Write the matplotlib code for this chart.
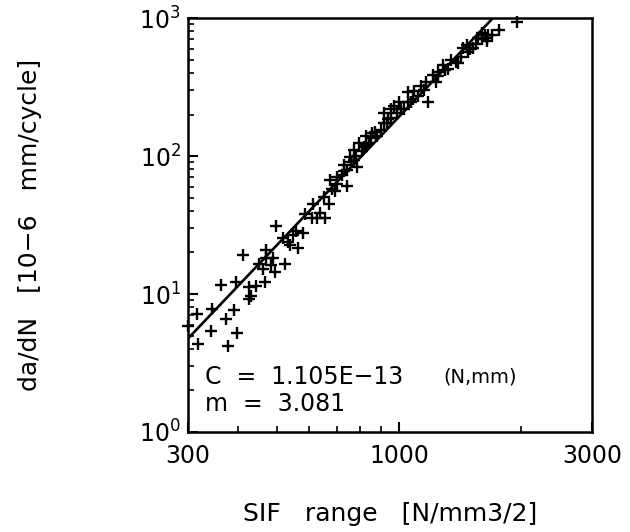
import matplotlib
matplotlib.use("Agg")
import matplotlib.pyplot as plt
import numpy as np
from matplotlib.ticker import FixedLocator, NullFormatter, FixedFormatter, LogLocator

# Data: SIF range [N/mm^3/2] vs da/dN [1e-6 mm/cycle]
sif_range = [301, 317, 345, 342, 318, 373, 391, 396, 378, 362, 395, 410, 426, 430, 426,
             443, 465, 451, 469, 492, 469, 483, 497, 521, 516, 536, 547, 563, 579, 585,
             608, 625, 637, 656, 669, 682, 675, 702, 722, 729, 743, 757, 772, 795, 810,
             787, 826, 842, 858, 900, 918, 935, 953, 990, 1000, 1029, 1049, 1069, 1090, 1111,
             1133, 1177, 1166, 1211, 1235, 1283, 1320, 1346, 1399, 1440, 1467, 1525, 1570, 1600, 1647,
             1662, 1761, 1956, 818, 874, 743, 695, 650, 613, 557, 531, 487, 460, 953, 1049,
             1247, 1481, 1631, 918, 772, 850, 972,
             700, 730, 760, 780, 830, 870, 880, 940, 1010, 1080, 1150, 1250, 1300, 1380,
             1420, 1500, 1550, 1600, 1700, 1650]
dadn = [5.84, 7.12, 7.75, 5.37, 4.35, 6.54, 7.66, 5.22, 4.21, 11.65, 12.2, 19.2, 11.2, 9.72, 9.19,
        11.5, 12.2, 16.6, 20.9, 14.4, 18.1, 16.2, 31.0, 16.6, 25.4, 22.7, 26.9, 21.5, 27.7, 37.8,
        35.7, 35.7, 38.9, 35.7, 44.8, 57.8, 66.5, 62.9, 72.4, 85.8, 61.1, 98.9, 93.4, 124, 108,
        83.4, 139, 124, 147, 155, 206, 174, 190, 206, 245, 218, 290, 245, 298, 274,
        324, 245, 343, 384, 343, 455, 430, 496, 469, 604, 640, 604, 716, 780, 677,
        758, 825, 940, 117, 139, 78.8, 56.2, 50.1, 44.8, 28.5, 24.0, 18.1, 15.3, 218, 245,
        407, 571, 758, 174, 111, 135, 231,
        70, 78, 90, 100, 120, 150, 140, 185, 220, 260, 300, 380, 420, 480,
        520, 600, 650, 700, 760, 720]

# Paris-law fit shown on the chart
C_fit = 1.105e-13
m_fit = 3.081
fit_x_ends = [300, 3000]

x_major = [300, 1000, 3000]
x_major_labels = ["300", "1000", "3000"]
x_minor = [400, 500, 600, 700, 800, 900, 2000]
y_major = [1, 10, 100, 1000]
y_major_labels = [r"$10^{0}$", r"$10^{1}$", r"$10^{2}$", r"$10^{3}$"]

fig = plt.figure(figsize=(6.3, 5.32), dpi=100)
ax = fig.add_axes([0.298, 0.188, 0.642, 0.778])

ax.set_xscale("log")
ax.set_yscale("log")
ax.set_xlim(300, 3000)
ax.set_ylim(1, 1000)

ax.plot(sif_range, dadn, linestyle="none", marker="+", color="black",
        markersize=8, markeredgewidth=1.7, clip_on=False)

fx = np.logspace(np.log10(fit_x_ends[0]), np.log10(fit_x_ends[1]), 50)
fy = C_fit * fx ** m_fit * 1e6
ax.plot(fx, fy, color="black", linewidth=1.9)

ax.xaxis.set_major_locator(FixedLocator(x_major))
ax.xaxis.set_major_formatter(FixedFormatter(x_major_labels))
ax.xaxis.set_minor_locator(FixedLocator(x_minor))
ax.xaxis.set_minor_formatter(NullFormatter())
ax.yaxis.set_major_locator(FixedLocator(y_major))
ax.yaxis.set_major_formatter(FixedFormatter(y_major_labels))
ax.yaxis.set_minor_locator(LogLocator(base=10, subs=np.arange(2, 10)))
ax.yaxis.set_minor_formatter(NullFormatter())

ax.tick_params(axis="both", which="major", direction="in", length=7, width=1.5,
               labelsize=17, pad=5)
ax.tick_params(axis="both", which="minor", direction="in", length=4, width=1.2)
ax.tick_params(axis="x", which="major", pad=9)

for s in ax.spines.values():
    s.set_linewidth(1.8)

ax.set_xlabel("SIF   range   [N/mm3/2]", fontsize=18, va="center")
ax.xaxis.set_label_coords(0.5, -0.198)
ax.set_ylabel("da/dN   [10\u22126   mm/cycle]", fontsize=18)
ax.yaxis.set_label_coords(-0.36, 0.5)

ax.text(0.042, 0.133, "C  =  1.105E\u221213", transform=ax.transAxes, fontsize=17,
        va="center", ha="left")
ax.text(0.631, 0.133, "(N,mm)", transform=ax.transAxes, fontsize=14,
        va="center", ha="left")
ax.text(0.042, 0.068, "m  =  3.081", transform=ax.transAxes, fontsize=17,
        va="center", ha="left")

fig.savefig("out.png", dpi=100)
